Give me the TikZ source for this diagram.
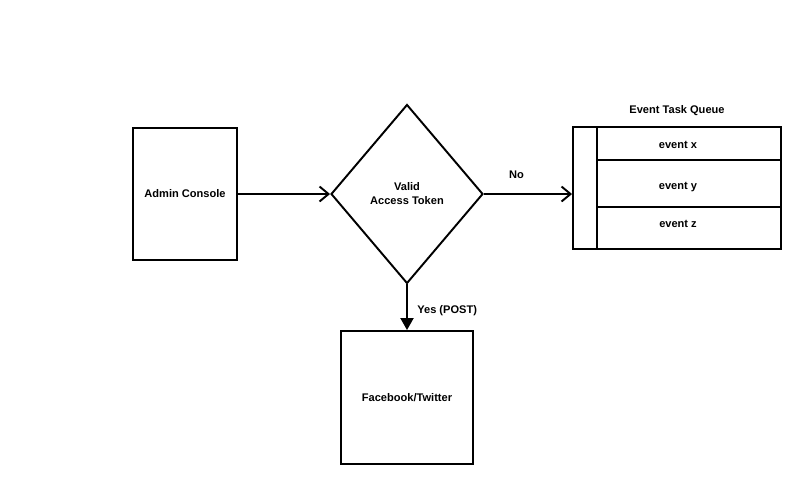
\documentclass[tikz,border=0pt]{standalone}
\usepackage{fontspec}
\setmainfont{Liberation Sans}
\usetikzlibrary{positioning, arrows.meta, shapes.geometric}

\begin{document}
\begin{tikzpicture}[x=0.02cm, y=-0.02cm, line width=1.1pt,
  every node/.style={font=\fontsize{6.3pt}{8pt}\selectfont\bfseries, align=center},
  box/.style={draw, inner sep=0pt, minimum width=#1},
  row/.style={draw, inner sep=0pt, minimum width=3.68cm},
  decision/.style={draw, diamond, inner sep=0pt, minimum width=3.04cm,
    minimum height=3.58cm},
  flow/.style={-{Straight Barb[length=1.8mm, width=3mm, line width=1.1pt]}},
  yesflow/.style={-{Triangle[length=2.4mm, width=2.6mm]}}]

\useasboundingbox (0,0) rectangle (800,483);

% --- Sources ---
\node[box=2.08cm, minimum height=2.64cm] (admin) at (185,194) {Admin Console};
\node[decision] (token) at (407,194) {Valid\\Access Token};
\node[box=2.64cm, minimum height=2.66cm] (social) at (407,397.5) {Facebook/Twitter};

% --- Event task queue ---
\node (qtitle) at (677,111) {Event Task Queue};
\node[box=0.48cm, minimum height=2.44cm] (qbar) at (585,188) {};
\node[row, minimum height=0.66cm] (qx) at (689,143.5) {};
\node[row, minimum height=0.94cm] (qy) at (689,183.5) {};
\node[row, minimum height=0.84cm] (qz) at (689,228) {};
\node at (678,145) {event x};
\node at (678,187) {event y};
\node at (678,224) {event z};

% --- Connectors ---
\draw[flow] (admin) -- (token);
\draw[flow] (token.east) -- node[above=5pt, pos=0.37] {No} (qbar.west |- token.east);
\draw[yesflow] (token.south) -- node[right=2pt, pos=0.57] {Yes (POST)} (social.north);

\end{tikzpicture}
\end{document}
